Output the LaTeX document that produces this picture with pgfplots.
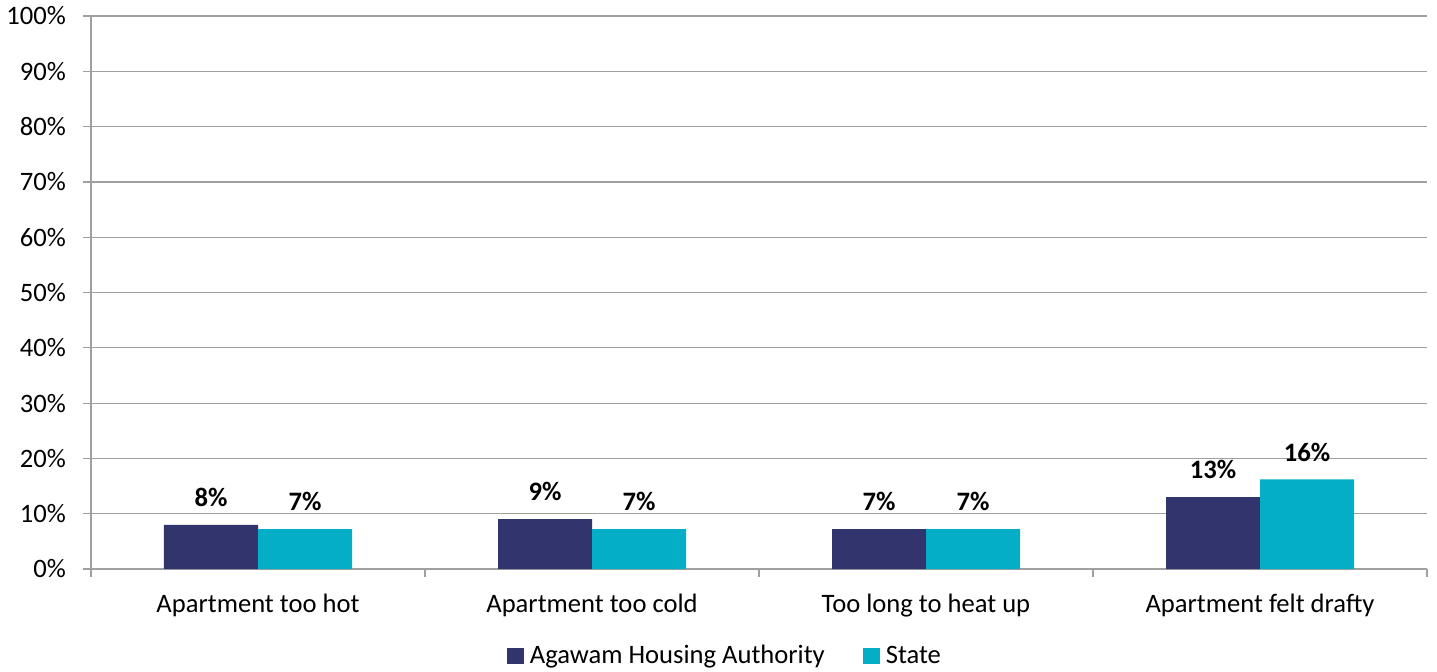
\documentclass[border=0pt]{standalone}
\usepackage{pgfplots}
\pgfplotsset{compat=1.18}
\usepackage{fontspec}
\setmainfont{Carlito}
\usetikzlibrary{calc}

\definecolor{agawam}{RGB}{50,52,110}
\definecolor{state}{RGB}{3,174,198}
\definecolor{gridgray}{RGB}{160,160,160}

\begin{document}
\begin{tikzpicture}[font=\fontsize{13.3pt}{16pt}\selectfont]
\begin{axis}[
    name=main,
    scale only axis,
    width=668pt, height=276.5pt,
    ybar=0pt, bar width=47pt,
    xmin=-0.5, xmax=3.5,
    ymin=0, ymax=100,
    ytick={0,10,...,100},
    yticklabel={\pgfmathprintnumber{\tick}\%},
    /pgf/number format/assume math mode=true,
    xtick={0,1,2,3},
    xticklabels={Apartment too hot, Apartment too cold, Too long to heat up, Apartment felt drafty},
    minor xtick={-0.5,0.5,1.5,2.5,3.5},
    major x tick style={draw=none},
    tick align=outside,
    major tick length=4pt,
    minor tick length=4pt,
    tick style={gridgray, line width=0.6pt},
    xticklabel style={yshift=-5pt},
    yticklabel style={xshift=-5pt},
    ymajorgrids=true,
    grid style={gridgray, line width=0.6pt},
    axis x line*=bottom,
    axis y line*=left,
    axis line style={gridgray, line width=0.6pt},
    nodes near coords={\textbf{\pgfmathprintnumber{\pgfplotspointmeta}\%}},
    point meta=explicit symbolic,
    every node near coord/.append style={yshift=5.5pt},
    legend style={at={(0.476,-0.1573)}, anchor=center, draw=none, legend columns=2,
        /tikz/every even column/.append style={column sep=16pt},
        nodes={inner xsep=3pt}},
    legend image code/.code={\fill[#1] (0pt,-4.2pt) rectangle (8.5pt,4.2pt);},
]
\addplot[fill=agawam, draw=none] coordinates {
    (0,8.0)[8] (1,9.0)[9] (2,7.2)[7] (3,13.0)[13]
};
\addplot[fill=state, draw=none] coordinates {
    (0,7.2)[7] (1,7.2)[7] (2,7.2)[7] (3,16.2)[16]
};
\legend{Agawam Housing Authority, State}
\end{axis}
\pgfresetboundingbox
\path[use as bounding box] ($(main.south west)+(-45.5pt,-51pt)$) rectangle ++(718.5pt,335.5pt);
\end{tikzpicture}
\end{document}
